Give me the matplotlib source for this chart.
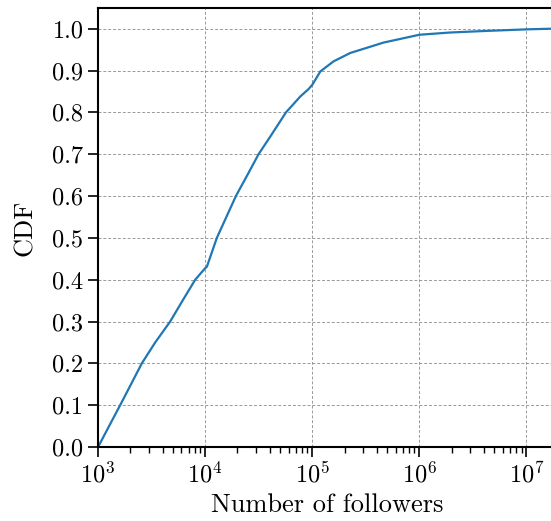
import matplotlib
matplotlib.use('Agg')
import matplotlib.pyplot as plt
import numpy as np

plt.rcParams['font.family'] = 'serif'
plt.rcParams['font.serif'] = ['cmr10']
plt.rcParams['mathtext.fontset'] = 'cm'
plt.rcParams['axes.formatter.use_mathtext'] = True

# CDF
followers = [1000, 1267, 1607, 2030, 2560, 3415, 4710, 6150, 8070, 10000, 10370,
             12850, 19360, 25350, 31500, 40500, 56800, 77300, 92500, 100000,
             119000, 158000, 226000, 464000, 1000000, 1950000, 3990000,
             10000000, 16700000]
cdf = [0.0, 0.05, 0.10, 0.15, 0.20, 0.25, 0.30, 0.35, 0.40, 0.4275, 0.431,
       0.50, 0.60, 0.655, 0.70, 0.742, 0.80, 0.838, 0.856, 0.866,
       0.898, 0.922, 0.942, 0.967, 0.9856, 0.991, 0.9945,
       0.9985, 1.0]

fig = plt.figure(figsize=(5.51, 5.21), dpi=100)
ax = fig.add_axes([0.178, 0.142, 0.83, 0.843])

ax.plot(followers, cdf, color='#1f77b4', linewidth=1.6)
ax.set_xscale('log')
ax.set_xlim(1e3, 10**7.27)
ax.set_ylim(0, 1.05)
ax.set_yticks(np.arange(0, 1.01, 0.1))
ax.set_yticklabels([f'{v:.1f}' for v in np.arange(0, 1.01, 0.1)])

ax.grid(True, which='major', linestyle=(0, (3, 2)), color='0.6', linewidth=0.7)
ax.set_xlabel('Number of followers', fontsize=19)
ax.set_ylabel('CDF', fontsize=19, labelpad=11)
ax.tick_params(axis='both', which='major', labelsize=17.5, length=7, width=1.2)
ax.tick_params(axis='x', which='minor', length=4, width=1.0)
for s in ax.spines.values():
    s.set_linewidth(1.5)

fig.savefig('out.png', dpi=100)
